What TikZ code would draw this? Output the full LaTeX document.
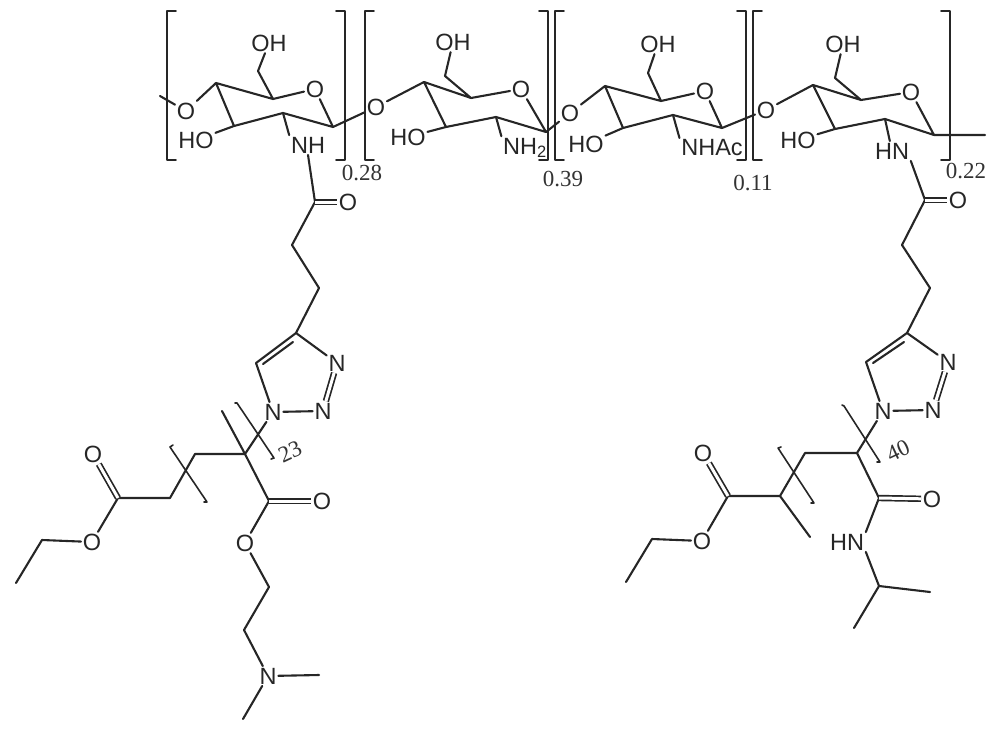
\documentclass[tikz,border=0pt]{standalone}
\usepackage{fontspec}
\setmainfont{Liberation Sans}
\newfontfamily\numfont{Liberation Serif}
\tikzset{
	atom/.style={inner sep=0.8pt, font=\fontsize{23.5}{26}\selectfont},
	count/.style={inner sep=0pt, font=\numfont\fontsize{23}{26}\selectfont, text=black!80},
	dbl/.style={double, double distance=3pt, line width=1.7pt, line cap=butt}
}
\begin{document}
\begin{tikzpicture}[x=1pt, y=-1pt, line width=2.1pt, line join=round, line cap=round, color=black!85]
	\useasboundingbox (0,0) rectangle (1000,733);
	% sugar rings
	\path
	(216,83) coordinate (aCf) (273,99) coordinate (aCg) (333,127) coordinate (aCa)
	(283,113) coordinate (aCb) (234,126) coordinate (aCc) (258,71) coordinate (aCh)
	(160,96) coordinate (tailL)
	(424,82) coordinate (bCf) (471,98) coordinate (bCg) (546,132) coordinate (bCa)
	(496,117) coordinate (bCb) (446,127) coordinate (bCc) (445,76) coordinate (bCh)
	(605,86) coordinate (cCf) (661,101) coordinate (cCg) (722,128) coordinate (cCa)
	(673,115) coordinate (cCb) (623,128) coordinate (cCc) (648,73) coordinate (cCh)
	(813,85) coordinate (dCf) (861,100) coordinate (dCg) (934,135) coordinate (dCa)
	(885,119) coordinate (dCb) (835,129) coordinate (dCc) (835,78) coordinate (dCh)
	(985,135) coordinate (tailR)
	;
	\foreach \n/\t/\x/\y in {
		aOl/O/186/111, aOr/O/315/89, aHO/HO/196/140, aNH/NH/308/145, aOH/OH/269/43,
		bOl/O/376/107, bOr/O/521/89, bHO/HO/408/137, bNH/{NH\textsubscript{2}}/525/148, bOH/OH/453/42,
		cOl/O/570/113, cOr/O/705/91, cHO/HO/586/144, cNH/NHAc/712/148, cOH/OH/658/44,
		dOl/O/766/110, dOr/O/911/92, dHO/HO/798/140, dNH/HN/892/151, dOH/OH/843/44}
	\node[atom] (\n) at (\x,\y) {\t};
	\foreach \p in {a,b,c,d}
	\draw (\p Ol)--(\p Cf)--(\p Cg)--(\p Or)--(\p Ca)--(\p Cb)--(\p Cc)--(\p Cf)
	(\p Cc)--(\p HO) (\p Cg)--(\p Ch)--(\p OH);
	\draw (tailL)--(aOl) (aCa)--(bOl) (bCa)--(cOl) (cCa)--(dOl) (dCa)--(tailR);
	\draw (aCb)--(aNH.north west) (bCb)--(bNH.north west) (cCb)--(cNH.north west) (dCb)--(dNH);
	% big brackets
	\foreach \l/\r in {167/345,365/548,555/746,753/950}
	\draw[line width=1.8pt] (\l+9,11)--(\l,11)--(\l,160)--(\l+9,160) (\r-9,11)--(\r,11)--(\r,160)--(\r-9,160);
	\foreach \n/\t/\x/\y in {ca/0.28/362/173, cb/0.39/563/179, cc/0.11/753/183, cd/0.22/966/171}
	\node[count] (\n) at (\x,\y) {\t};
	% left arm
	\path
	(315,202) coordinate (eCa) (292,245) coordinate (eCb) (319,288) coordinate (eCc)
	(296,333) coordinate (eCd) (256,363) coordinate (eCe)
	(263,364) coordinate (eIa) (293,342) coordinate (eIb)
	(245,454) coordinate (eCf) (222,411) coordinate (eMe) (195,454) coordinate (eCg)
	(170,498) coordinate (eCh) (118,498) coordinate (eCi) (42,540) coordinate (eCj)
	(16,583) coordinate (eCk) (269,501) coordinate (eCl) (269,587) coordinate (eCm)
	(244,630) coordinate (eCn) (319,675) coordinate (eMa) (243,719) coordinate (eMb)
	;
	\foreach \n/\t/\x/\y in {
		eO/O/348/202, eNc/N/337/363, eNb/N/323/411, eNa/N/273/412,
		eOa/O/93/454, eOb/O/92/542, eOc/O/322/501, eOd/O/245/543, eNd/N/268/676}
	\node[atom] (\n) at (\x,\y) {\t};
	\draw (aNH.south)--(eCa)--(eCb)--(eCc)--(eCd)--(eNc) (eNb)--(eNa)--(eCe)--(eCd) (eIa)--(eIb);
	\draw (eNa)--(eCf)--(eCg)--(eCh)--(eCi)--(eOb)--(eCj)--(eCk) (eMe)--(eCf)--(eCl)--(eOd)--(eCm)--(eCn)--(eNd)--(eMa) (eNd)--(eMb);
	\draw[dbl] (eCa)--(eO);
	\draw[dbl] (eNc)--(eNb);
	\draw[dbl] (eCi)--(eOa);
	\draw[dbl] (eCl)--(eOc);
	\draw[line width=1.6pt] (173,445)--(170,447)--(207,502)--(204,502) (235,403)--(237,403)--(274,458)--(271,459);
	\node[count, rotate=25] (en) at (290,452) {23};
	% right arm
	\path
	(925,200) coordinate (fCa) (902,245) coordinate (fCb) (930,288) coordinate (fCc)
	(907,333) coordinate (fCd) (866,362) coordinate (fCe)
	(873,363) coordinate (fIa) (904,342) coordinate (fIb)
	(857,453) coordinate (fCf) (805,453) coordinate (fCg) (780,496) coordinate (fCh)
	(728,496) coordinate (fCi) (652,539) coordinate (fCj) (626,582) coordinate (fCk)
	(810,537) coordinate (fMe) (879,498) coordinate (fCl) (879,586) coordinate (fCm)
	(930,592) coordinate (fMa) (854,628) coordinate (fMb)
	;
	\foreach \n/\t/\x/\y in {
		fO/O/958/200, fNc/N/948/362, fNb/N/933/410, fNa/N/883/411,
		fOa/O/703/453, fOb/O/702/541, fOc/O/932/499, fHN/HN/847/542}
	\node[atom] (\n) at (\x,\y) {\t};
	\draw (dNH.south east)--(fCa)--(fCb)--(fCc)--(fCd)--(fNc) (fNb)--(fNa)--(fCe)--(fCd) (fIa)--(fIb);
	\draw (fNa)--(fCf)--(fCg)--(fCh)--(fCi)--(fOb)--(fCj)--(fCk) (fCh)--(fMe) (fCf)--(fCl)--(fHN.north east) (fHN.south east)--(fCm)--(fMa) (fCm)--(fMb);
	\draw[dbl] (fCa)--(fO);
	\draw[dbl] (fNc)--(fNb);
	\draw[dbl] (fCi)--(fOa);
	\draw[dbl] (fCl)--(fOc);
	\draw[line width=1.6pt] (781,447)--(778,448)--(814,503)--(811,503) (842,405)--(844,406)--(880,462)--(877,462);
	\node[count, rotate=25] (fn) at (898,451) {40};
\end{tikzpicture}
\end{document}
